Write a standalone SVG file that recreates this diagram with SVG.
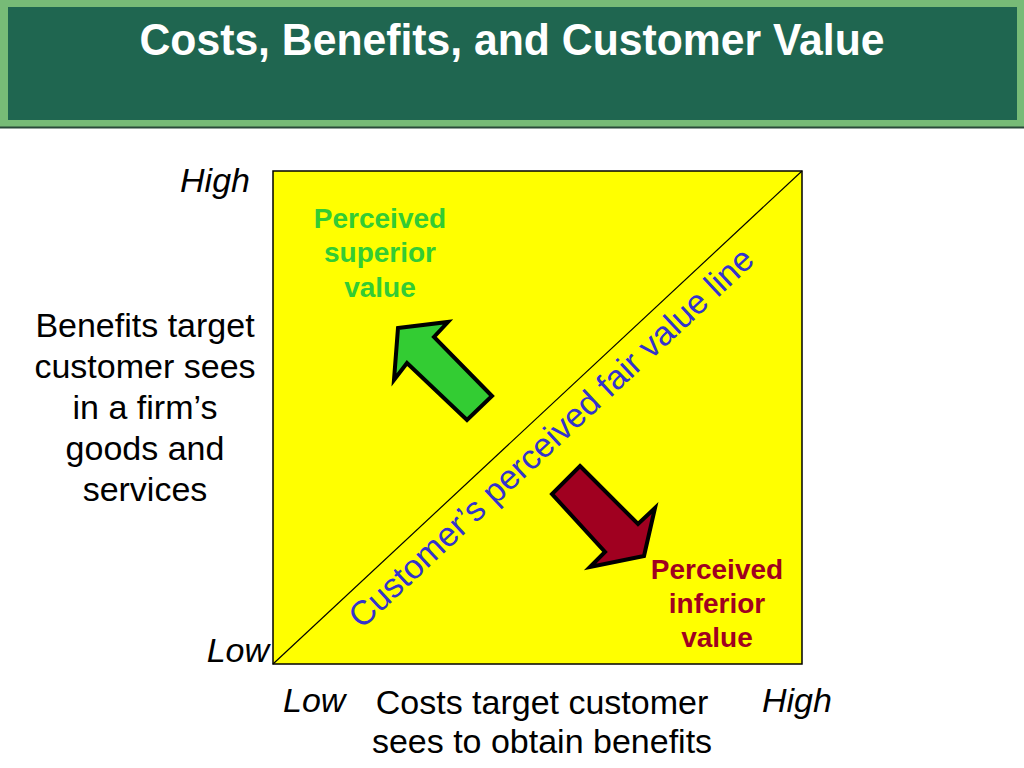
<svg xmlns="http://www.w3.org/2000/svg" width="1024" height="768" viewBox="0 0 1024 768">
<style>
.ax{font-family:"Liberation Sans",Arial,sans-serif;font-size:34px;fill:#000}
.it{font-style:italic}
.lbl{font-family:"Liberation Sans",Arial,sans-serif;font-size:28px;font-weight:bold;text-anchor:middle}
.arrow{stroke:#000;stroke-width:4;stroke-linejoin:miter}
</style>
<rect width="1024" height="768" fill="#fff"/>
<g id="header">
<rect x="0" y="0" width="1024" height="128" fill="#77bb77"/>
<rect x="8" y="7" width="1009" height="113" fill="#1f6650"/>
<line x1="0" y1="127.5" x2="1024" y2="127.5" stroke="#2a4a3a" stroke-width="2"/>
<text x="512" y="55" text-anchor="middle" font-family="'Liberation Sans',Arial,sans-serif" font-size="44" font-weight="bold" fill="#fff" textLength="745" lengthAdjust="spacingAndGlyphs">Costs, Benefits, and Customer Value</text>
</g>
<g id="chart">
<rect x="273" y="171" width="529" height="493" fill="#ffff00" stroke="#000" stroke-width="1.5"/>
</g>
<g id="connectors">
<line x1="273" y1="664" x2="802" y2="171" stroke="#000" stroke-width="1.2"/>
</g>
<g id="fair-value-label">
<text transform="translate(559,446) rotate(-43)" text-anchor="middle" font-family="'Liberation Sans',Arial,sans-serif" font-size="34" fill="#3333cc">Customer’s perceived fair value line</text>
</g>
<g id="superior-arrow">
<polygon class="arrow" fill="#33cc33" points="398,328 448,322 434,337 492,396 467,420 407,363 394,380"/>
</g>
<g id="inferior-arrow">
<polygon class="arrow" fill="#a00020" points="580,466 638,524 655,508 644,556 590,567 605,552 552,494"/>
</g>
<g id="superior-label">
<text class="lbl" fill="#33cc33" x="380" y="228">Perceived</text>
<text class="lbl" fill="#33cc33" x="380" y="262">superior</text>
<text class="lbl" fill="#33cc33" x="380" y="297">value</text>
</g>
<g id="inferior-label">
<text class="lbl" fill="#a00020" x="717" y="579">Perceived</text>
<text class="lbl" fill="#a00020" x="717" y="613">inferior</text>
<text class="lbl" fill="#a00020" x="717" y="647">value</text>
</g>
<g id="y-axis">
<text class="ax it" x="250" y="192" text-anchor="end">High</text>
<text class="ax it" x="269" y="662" text-anchor="end">Low</text>
<g text-anchor="middle">
<text class="ax" x="145" y="337">Benefits target</text>
<text class="ax" x="145" y="378">customer sees</text>
<text class="ax" x="145" y="419">in a firm’s</text>
<text class="ax" x="145" y="460">goods and</text>
<text class="ax" x="145" y="501">services</text>
</g>
</g>
<g id="x-axis">
<text class="ax it" x="283" y="712">Low</text>
<text class="ax it" x="762" y="712">High</text>
<text class="ax" x="542" y="714" text-anchor="middle">Costs target customer</text>
<text class="ax" x="542" y="753" text-anchor="middle">sees to obtain benefits</text>
</g>
</svg>
